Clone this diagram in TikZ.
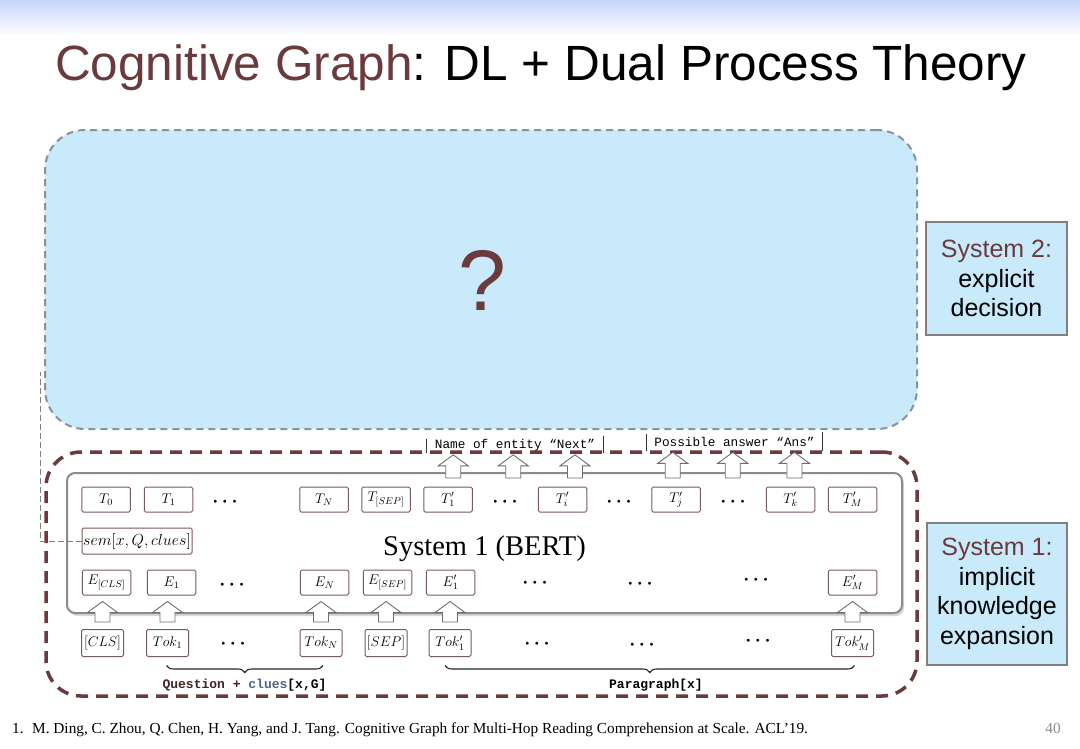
\RequirePackage{fix-cm}
\documentclass[tikz,border=0pt]{standalone}
\usepackage[no-math]{fontspec}
\setmainfont{Liberation Serif}
\newfontfamily\sansf{Liberation Sans}
\newfontfamily\seriff{Liberation Serif}
\newfontfamily\monof{Liberation Mono}
\usetikzlibrary{calc,decorations.pathreplacing,shadows}
\definecolor{dred}{HTML}{6B3A3C}
\definecolor{skyfill}{HTML}{C8EAFB}
\definecolor{dashgray}{HTML}{8A9199}
\definecolor{boxcol}{HTML}{7A5A5A}
\definecolor{arrgray}{HTML}{6E6E6E}
\definecolor{cluecol}{HTML}{4E6480}
\definecolor{sysborder}{HTML}{808080}
\definecolor{bertborder}{HTML}{8C8C8C}
\newcommand\blockarr[3]{%
  \path[blockarrow] let \p1=(#1), \p2=(#2), \p3=(#3) in
  ({\x1-7.5pt},\y2) -- ({\x1-7.5pt},{\y3-11pt}) -- ({\x1-15pt},{\y3-11pt}) -- (\x1,\y3)
  -- ({\x1+15pt},{\y3-11pt}) -- ({\x1+7.5pt},{\y3-11pt}) -- ({\x1+7.5pt},\y2) -- cycle;}
\newcommand\bdots{{\boldmath$\cdots$}}
\tikzset{
  tok/.style={draw=boxcol, line width=1pt, rounded corners=1.5pt, fill=white,
    minimum width=48.5pt, minimum height=25pt, inner sep=0pt, font=\fontsize{14}{14}\selectfont},
  tokw/.style={tok, minimum width=42pt, minimum height=27pt},
  dotsn/.style={anchor=base, inner sep=0pt, font=\fontsize{19}{19}\selectfont},
  blockarrow/.style={draw=arrgray, fill=white, line width=0.9pt, line join=miter},
  sysbox/.style={draw=sysborder, line width=2.2pt, fill=skyfill, align=center, inner sep=0pt,
    font=\sansf\fontsize{25}{29.5}\selectfont},
  monolab/.style={anchor=base, inner ysep=0pt, inner xsep=8pt, font=\monof\fontsize{12.7}{12.7}\selectfont},
  barline/.style={draw=black!80, line width=0.8pt},
  bracest/.style={draw=black!85, line width=1.1pt, decorate, decoration={brace, amplitude=7pt, mirror}},
  botlab/.style={anchor=base, inner sep=0pt, font=\monof\bfseries\fontsize{13}{13}\selectfont},
  conn/.style={draw=gray, line width=0.8pt, dash pattern=on 6pt off 3pt}
}
\begin{document}
\begin{tikzpicture}[x=1pt,y=-1pt]
\useasboundingbox (0,0) rectangle (1080,748);
\fill[white] (0,0) rectangle (1080,748);
\shade[top color=skyfill!80!blue!60, bottom color=white] (0,0) rectangle (1080,36);

% title
\node[anchor=base west, inner sep=0pt] (title) at (55,80)
  {\sansf\fontsize{49.5}{49.5}\selectfont\textcolor{dred}{Cognitive Graph}: DL + Dual Process Theory};

% system 2 region
\node[draw=dashgray, fill=skyfill, line width=2pt, dash pattern=on 7pt off 5pt,
  rounded corners=40pt, minimum width=872pt, minimum height=299pt, inner sep=0pt] (sys2area) at (481,279.5) {};
\node[anchor=base, inner sep=0pt, text=dred] (qm) at (482,310) {\sansf\fontsize{86}{86}\selectfont ?};

% system 1 region
\node[draw=dred, line width=3.5pt, dash pattern=on 12pt off 8pt, rounded corners=35pt,
  minimum width=871pt, minimum height=244pt, inner sep=0pt] (sys1area) at (481.5,574) {};
\node[draw=bertborder, line width=2pt, fill=white, rounded corners=8pt,
  minimum width=835pt, minimum height=140pt, inner sep=0pt,
  drop shadow={shadow xshift=2pt, shadow yshift=-3pt, opacity=0.3}] (bert) at (484.5,543) {};
\node[anchor=base, inner sep=0pt] (berttxt) at (484.5,555) {\seriff\fontsize{28.5}{28.5}\selectfont System 1 (BERT)};

% side boxes
\node[sysbox, minimum width=141pt, minimum height=113pt] (sys2) at (996.5,278.5)
  {\textcolor{dred}{System 2:}\\explicit\\decision};
\node[sysbox, minimum width=140pt, minimum height=142pt] (sys1) at (997,594)
  {\textcolor{dred}{System 1:}\\implicit\\knowledge\\expansion};

% T row
\node[tok] (T0) at (106,499.5) {$T_0$};
\node[tok] (T1) at (168.5,499.5) {$T_1$};
\node[dotsn] (Td1) at (225,506.5) {\bdots};
\node[tok] (TN) at (324,499.5) {$T_N$};
\node[tok] (TSEP) at (386,499.5) {$T_{[SEP]}$};
\node[tok] (Tp1) at (448,499.5) {$T'_1$};
\node[dotsn] (Td2) at (505,506.5) {\bdots};
\node[tok] (Tpi) at (562.5,499.5) {$T'_i$};
\node[dotsn] (Td3) at (619,506.5) {\bdots};
\node[tok] (Tpj) at (676,499.5) {$T'_j$};
\node[dotsn] (Td4) at (733,506.5) {\bdots};
\node[tok] (Tpk) at (790.5,499.5) {$T'_k$};
\node[tok] (TpM) at (852.5,499.5) {$T'_M$};

% sem
\node[tok, minimum width=110pt, minimum height=26pt, font=\fontsize{16}{16}\selectfont] (sem) at (137,541) {$sem[x,Q,clues]$};

% E row
\node[tok] (ECLS) at (106.5,582.5) {$E_{[CLS]}$};
\node[tok] (E1) at (171.5,582.5) {$E_1$};
\node[dotsn] (Ed1) at (232,589.5) {\bdots};
\node[tok] (EN) at (324.5,582.5) {$E_N$};
\node[tok] (ESEP) at (387.5,582.5) {$E_{[SEP]}$};
\node[tok] (Ep1) at (450.5,582.5) {$E'_1$};
\node[dotsn] (Ed2) at (535,587.5) {\bdots};
\node[dotsn] (Ed3) at (640,588.5) {\bdots};
\node[dotsn] (Ed4) at (756,584.5) {\bdots};
\node[tok] (EpM) at (852.5,582.5) {$E'_M$};

% Tok row
\node[tokw] (tokCLS) at (102.5,643) {$[CLS]$};
\node[tokw] (tok1) at (167.5,643) {$Tok_1$};
\node[dotsn] (tkd1) at (233,648.5) {\bdots};
\node[tokw] (tokN) at (321,643) {$Tok_N$};
\node[tokw] (tokSEP) at (386,643) {$[SEP]$};
\node[tokw] (tokp1) at (450,643) {$Tok'_1$};
\node[dotsn] (tkd2) at (537,648.5) {\bdots};
\node[dotsn] (tkd3) at (642,649.5) {\bdots};
\node[dotsn] (tkd4) at (758,645.5) {\bdots};
\node[tokw] (tokpM) at (852.5,643) {$Tok'_M$};

% block arrows Tok -> E
\blockarr{tokCLS}{$(tokCLS.north)+(0,-7)$}{$(ECLS.south)+(0,6)$}
\blockarr{tok1}{$(tok1.north)+(0,-7)$}{$(E1.south)+(0,6)$}
\blockarr{tokN}{$(tokN.north)+(0,-7)$}{$(EN.south)+(0,6)$}
\blockarr{tokSEP}{$(tokSEP.north)+(0,-7)$}{$(ESEP.south)+(0,6)$}
\blockarr{tokp1}{$(tokp1.north)+(0,-7)$}{$(Ep1.south)+(0,6)$}
\blockarr{tokpM}{$(tokpM.north)+(0,-7)$}{$(EpM.south)+(0,6)$}

% output labels
\node[monolab] (nameL) at (515,448) {Name of entity “Next”};
\node[monolab] (possL) at (734.5,446) {Possible answer “Ans”};
\draw[barline] ($(nameL.base west)+(0,-9)$) -- ($(nameL.base west)+(0,5)$);
\draw[barline] ($(nameL.base east)+(0,-12)$) -- ($(nameL.base east)+(0,5)$);
\draw[barline] ($(possL.base west)+(0,-12)$) -- ($(possL.base west)+(0,5)$);
\draw[barline] ($(possL.base east)+(0,-14)$) -- ($(possL.base east)+(0,5)$);

% upward block arrows
\foreach \f in {0.15,0.49,0.84}{
  \blockarr{$(nameL.west)!\f!(nameL.east)$}{$(bert.north)+(0,6)$}{$(nameL.south)+(0,4)$}
  \blockarr{$(possL.west)!\f!(possL.east)$}{$(bert.north)+(0,6)$}{$(possL.south)+(0,6)$}
}

% braces and bottom labels
\draw[bracest] ($(tok1.south)+(-1,8.5)$) -- ($(tokN.south)+(2,8.5)$);
\draw[bracest] ($(tokp1.south)+(-5,8.5)$) -- ($(tokpM.south)+(2,8.5)$);
\node[botlab] (qlab) at (244.5,688) {\textcolor{dred!60!black}{Question +} \textcolor{cluecol}{clues}[x,G]};
\node[botlab] (plab) at (656,688) {Paragraph[x]};

% connector sem -> system 2 region
\coordinate (semtop) at (40,372);
\draw[conn] (sem.west) -| (semtop);

% footnote
\node[anchor=base west, inner sep=0pt] (fn1) at (12,733) {\seriff\fontsize{15.3}{15.3}\selectfont 1.};
\node[anchor=base west, inner sep=0pt] (fn) at (32,733)
  {\seriff\fontsize{15.3}{15.3}\selectfont M. Ding, C. Zhou, Q. Chen, H. Yang, and J. Tang. Cognitive Graph for Multi-Hop Reading Comprehension at Scale. ACL’19.};
\node[anchor=base, inner sep=0pt, text=black!45] (pg) at (1053,733) {\seriff\fontsize{15.3}{15.3}\selectfont 40};
\end{tikzpicture}
\end{document}
